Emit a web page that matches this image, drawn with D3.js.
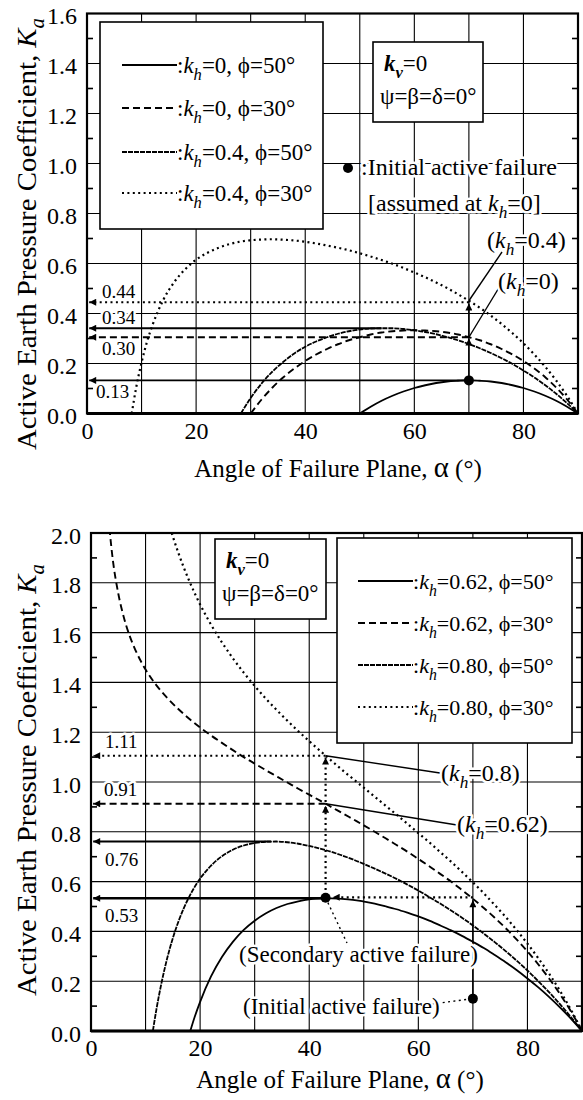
<!DOCTYPE html>
<html>
<head>
<meta charset="utf-8">
<script src="https://cdn.jsdelivr.net/npm/d3@7"></script>
<style>
  body { margin: 0; background: #fff; }
  svg text { font-family: "Liberation Serif", "Times New Roman", serif; fill: #000; }
</style>
</head>
<body>
<div id="chart"></div>
<script>
// values: alpha (deg) and Ka

// upper panel
var alphaKh0Phi50 = [50, 52, 54, 56, 58, 60, 62, 64, 66, 68, 70, 72, 74, 76, 78, 80, 82, 84, 86, 88, 90];
var kaKh0Phi50 = [0, 0.027, 0.051, 0.071, 0.088, 0.102, 0.113, 0.122, 0.128, 0.131, 0.133, 0.131, 0.128, 0.122, 0.113, 0.102, 0.088, 0.071, 0.051, 0.027, 0];

var alphaKh0Phi30 = [30, 32, 34, 36, 38, 40, 42, 44, 46, 48, 50, 52, 54, 56, 58, 60, 62, 64, 66, 68, 70, 72, 74, 76, 78, 80, 82, 84, 86, 88, 90];
var kaKh0Phi30 = [0, 0.056, 0.104, 0.145, 0.180, 0.210, 0.236, 0.258, 0.277, 0.293, 0.305, 0.316, 0.324, 0.329, 0.332, 0.333, 0.332, 0.329, 0.324, 0.316, 0.305, 0.293, 0.277, 0.258, 0.236, 0.210, 0.180, 0.145, 0.104, 0.056, 0];

var alphaKh04Phi50 = [28.2, 30, 32, 34, 36, 38, 40, 42, 44, 46, 48, 50, 52, 54, 56, 58, 60, 62, 64, 66, 68, 70, 72, 74, 76, 78, 80, 82, 84, 86, 88, 90];
var kaKh04Phi50 = [0, 0.062, 0.120, 0.168, 0.207, 0.240, 0.267, 0.288, 0.305, 0.319, 0.329, 0.336, 0.340, 0.341, 0.341, 0.338, 0.333, 0.326, 0.317, 0.306, 0.293, 0.278, 0.261, 0.242, 0.221, 0.198, 0.172, 0.144, 0.113, 0.079, 0.041, 0];

var alphaKh04Phi30 = [8.2, 9, 10, 11, 12, 14, 16, 18, 20, 22, 24, 26, 28, 30, 32, 34, 36, 38, 40, 42, 44, 46, 48, 50, 52, 54, 56, 58, 60, 62, 64, 66, 68, 70, 72, 74, 76, 78, 80, 82, 84, 86, 88, 90];
var kaKh04Phi30 = [0, 0.102, 0.204, 0.287, 0.353, 0.455, 0.526, 0.577, 0.615, 0.642, 0.662, 0.677, 0.687, 0.693, 0.696, 0.697, 0.695, 0.692, 0.687, 0.680, 0.672, 0.663, 0.653, 0.641, 0.628, 0.614, 0.599, 0.582, 0.564, 0.545, 0.524, 0.502, 0.477, 0.451, 0.423, 0.392, 0.358, 0.321, 0.281, 0.236, 0.187, 0.132, 0.070, 0];

// lower panel
var alphaKh062Phi50 = [18.2, 19, 20, 22, 24, 26, 28, 30, 32, 34, 36, 38, 40, 42, 44, 46, 48, 50, 52, 54, 56, 58, 60, 62, 64, 66, 68, 70, 72, 74, 76, 78, 80, 82, 84, 86, 88, 90];
var kaKh062Phi50 = [0, 0.056, 0.117, 0.219, 0.297, 0.358, 0.406, 0.443, 0.472, 0.494, 0.510, 0.521, 0.529, 0.533, 0.533, 0.531, 0.527, 0.520, 0.512, 0.501, 0.489, 0.475, 0.460, 0.443, 0.424, 0.404, 0.382, 0.358, 0.333, 0.305, 0.276, 0.245, 0.211, 0.175, 0.136, 0.094, 0.049, 0];

var alphaKh062Phi30 = [3, 4, 5, 6, 7, 8, 9, 10, 12, 14, 16, 18, 20, 22, 24, 26, 28, 30, 32, 34, 36, 38, 40, 42, 44, 46, 48, 50, 52, 54, 56, 58, 60, 62, 64, 66, 68, 70, 72, 74, 76, 78, 80, 82, 84, 86, 88, 90];
var kaKh062Phi30 = [2.108, 1.892, 1.757, 1.663, 1.592, 1.537, 1.491, 1.452, 1.388, 1.337, 1.293, 1.254, 1.219, 1.187, 1.157, 1.128, 1.100, 1.074, 1.048, 1.023, 0.998, 0.973, 0.949, 0.925, 0.900, 0.876, 0.851, 0.826, 0.800, 0.774, 0.747, 0.720, 0.691, 0.662, 0.631, 0.600, 0.566, 0.531, 0.494, 0.455, 0.413, 0.368, 0.320, 0.267, 0.210, 0.147, 0.078, 0];

var alphaKh080Phi50 = [11.34, 12, 13, 14, 15, 16, 18, 20, 22, 24, 26, 28, 30, 32, 34, 36, 38, 40, 42, 44, 46, 48, 50, 52, 54, 56, 58, 60, 62, 64, 66, 68, 70, 72, 74, 76, 78, 80, 82, 84, 86, 88, 90];
var kaKh080Phi50 = [0, 0.088, 0.201, 0.295, 0.373, 0.438, 0.539, 0.612, 0.664, 0.702, 0.728, 0.745, 0.755, 0.760, 0.761, 0.758, 0.752, 0.743, 0.732, 0.720, 0.705, 0.689, 0.671, 0.652, 0.632, 0.611, 0.588, 0.564, 0.538, 0.512, 0.484, 0.455, 0.424, 0.391, 0.357, 0.321, 0.283, 0.243, 0.200, 0.155, 0.107, 0.055, 0];

var alphaKh080Phi30 = [14.5, 15, 16, 17, 18, 20, 22, 24, 26, 28, 30, 32, 34, 36, 38, 40, 42, 44, 46, 48, 50, 52, 54, 56, 58, 60, 62, 64, 66, 68, 70, 72, 74, 76, 78, 80, 82, 84, 86, 88, 90];
var kaKh080Phi30 = [2.021, 1.986, 1.921, 1.862, 1.808, 1.713, 1.632, 1.561, 1.497, 1.439, 1.386, 1.336, 1.290, 1.246, 1.204, 1.164, 1.125, 1.087, 1.049, 1.013, 0.977, 0.941, 0.905, 0.869, 0.832, 0.795, 0.758, 0.719, 0.680, 0.639, 0.597, 0.553, 0.506, 0.458, 0.406, 0.351, 0.292, 0.229, 0.160, 0.084, 0];

// tick labels
var xTicks = [0, 20, 40, 60, 80];
var yTicksTop = [0, 0.2, 0.4, 0.6, 0.8, 1.0, 1.2, 1.4, 1.6];
var yTicksBottom = [0, 0.2, 0.4, 0.6, 0.8, 1.0, 1.2, 1.4, 1.6, 1.8, 2.0];

var width = 583;
var height = 1100;
var serif = "'Liberation Serif', 'Times New Roman', serif";

var lineStyles = {
  solid: { dash: null, w: 1.8 },
  dashed: { dash: "7,4", w: 1.9 },
  fine: { dash: "5,1", w: 1.8 },
  dotted: { dash: "2,3.4", w: 2.2 }
};

var svg = d3.select("#chart").append("svg")
  .attr("width", width)
  .attr("height", height)
  .style("font-family", serif);

var defs = svg.append("defs");
defs.append("marker")
  .attr("id", "arrow")
  .attr("viewBox", "0 0 10 10")
  .attr("refX", 10)
  .attr("refY", 5)
  .attr("markerUnits", "userSpaceOnUse")
  .attr("markerWidth", 10)
  .attr("markerHeight", 7)
  .attr("orient", "auto")
  .append("path")
  .attr("d", "M0,0L10,5L0,10Z")
  .attr("fill", "#000");

function applyStyle(sel, name, w) {
  var s = lineStyles[name];
  sel.attr("fill", "none").attr("stroke", "#000").attr("stroke-width", w || s.w);
  if (s.dash) sel.attr("stroke-dasharray", s.dash);
  return sel;
}

// text with italic / bold / subscript parts: flags i, b, s
function rich(g, px, py, parts, size) {
  var t = g.append("text")
    .attr("x", px)
    .attr("y", py)
    .style("font-family", serif)
    .style("font-size", size + "px");
  var shift = 0;
  parts.forEach(function (p) {
    var f = p[1] || "";
    var s = t.append("tspan").text(p[0]);
    if (f.indexOf("i") >= 0) s.style("font-style", "italic");
    if (f.indexOf("b") >= 0) s.style("font-weight", "bold");
    if (f.indexOf("L") >= 0) s.style("font-size", size * 1.15 + "px");
    var want = f.indexOf("s") >= 0 ? size * 0.3 : 0;
    if (want !== shift) {
      s.attr("dy", want - shift);
      shift = want;
    }
    if (f.indexOf("s") >= 0) s.style("font-size", size * 0.72 + "px");
  });
  return t;
}

function halo(t) {
  return t.attr("stroke", "#fff").attr("stroke-width", 5).attr("paint-order", "stroke").attr("stroke-linejoin", "round");
}

function drawFrame(g, x, y, yMax, id) {
  var x0 = x(0), x1 = x(90), y0 = y(0), y1 = y(yMax);

  g.append("g")
    .selectAll("line")
    .data(d3.range(10, 90, 10))
    .join("line")
    .attr("x1", (d) => x(d))
    .attr("x2", (d) => x(d))
    .attr("y1", y0)
    .attr("y2", y1)
    .attr("stroke", "#000")
    .attr("stroke-width", 1.1);

  var hs = d3.range(1, Math.round(yMax / 0.2)).map((i) => i * 0.2);
  g.append("g")
    .selectAll("line")
    .data(hs)
    .join("line")
    .attr("x1", x0)
    .attr("x2", x1)
    .attr("y1", (d) => y(d))
    .attr("y2", (d) => y(d))
    .attr("stroke", "#000")
    .attr("stroke-width", 1.1);

  // minor ticks at odd tenths
  var minor = d3.range(0, Math.round(yMax / 0.2)).map((i) => i * 0.2 + 0.1);
  g.append("g")
    .selectAll("line")
    .data(minor)
    .join("line")
    .attr("x1", x0)
    .attr("x2", x0 + 6)
    .attr("y1", (d) => y(d))
    .attr("y2", (d) => y(d))
    .attr("stroke", "#000")
    .attr("stroke-width", 1.6);
  g.append("g")
    .selectAll("line")
    .data(minor)
    .join("line")
    .attr("x1", x1 - 6)
    .attr("x2", x1)
    .attr("y1", (d) => y(d))
    .attr("y2", (d) => y(d))
    .attr("stroke", "#000")
    .attr("stroke-width", 1.6);

  g.append("clipPath")
    .attr("id", id)
    .append("rect")
    .attr("x", x0)
    .attr("y", y1)
    .attr("width", x1 - x0)
    .attr("height", y0 - y1);
}

function drawBorder(g, x, y, yMax, yTicks) {
  var x0 = x(0), x1 = x(90), y0 = y(0), y1 = y(yMax);
  g.append("rect")
    .attr("x", x0)
    .attr("y", y1)
    .attr("width", x1 - x0)
    .attr("height", y0 - y1)
    .attr("fill", "none")
    .attr("stroke", "#000")
    .attr("stroke-width", 2.2);
  g.append("line")
    .attr("x1", x0)
    .attr("x2", x1)
    .attr("y1", y0)
    .attr("y2", y0)
    .attr("stroke", "#000")
    .attr("stroke-width", 3.2);

  var ya = g.append("g")
    .attr("transform", `translate(${x0}, 0)`)
    .call(d3.axisLeft(y).tickValues(yTicks).tickSize(0).tickPadding(10).tickFormat(d3.format(".1f")));
  ya.select(".domain").remove();
  ya.attr("font-family", serif).attr("font-size", 24);
  ya.selectAll("text").style("font-family", serif).style("font-size", "24px").attr("dy", "0.42em");

  var xa = g.append("g")
    .attr("transform", `translate(0, ${y0})`)
    .call(d3.axisBottom(x).tickValues(xTicks).tickSize(0).tickPadding(8));
  xa.select(".domain").remove();
  xa.attr("font-family", serif).attr("font-size", 24);
  xa.selectAll("text").style("font-family", serif).style("font-size", "24px");
}

function drawCurves(g, x, y, series, clipId) {
  var line = d3.line()
    .x((d) => x(d[0]))
    .y((d) => y(d[1]))
    .curve(d3.curveMonotoneX);
  var cg = g.append("g").attr("clip-path", `url(#${clipId})`);
  series.forEach(function (s) {
    applyStyle(cg.append("path").datum(d3.zip(s.alpha, s.ka)).attr("d", line), s.style);
  });
}

function hArrow(g, x, y, a0, a1, k, style, w) {
  applyStyle(
    g.append("line")
      .attr("x1", x(a0))
      .attr("x2", x(a1))
      .attr("y1", y(k))
      .attr("y2", y(k)),
    style, w
  ).attr("marker-end", "url(#arrow)");
}

function vArrow(g, x, y, a, k0, k1, style, w) {
  applyStyle(
    g.append("line")
      .attr("x1", x(a))
      .attr("x2", x(a))
      .attr("y1", y(k0))
      .attr("y2", y(k1)),
    style, w
  ).attr("marker-end", "url(#arrow)");
}

function leader(g, px0, py0, px1, py1, style) {
  applyStyle(
    g.append("line").attr("x1", px0).attr("y1", py0).attr("x2", px1).attr("y2", py1),
    style, 1.4
  );
}

function dot(g, px, py) {
  g.append("circle").attr("cx", px).attr("cy", py).attr("r", 5).attr("fill", "#000");
}

function legendBox(g, bx, by, bw, bh, rows, lx0, lx1, size) {
  g.append("rect")
    .attr("x", bx)
    .attr("y", by)
    .attr("width", bw)
    .attr("height", bh)
    .attr("fill", "#fff")
    .attr("stroke", "#000")
    .attr("stroke-width", 1.6);
  rows.forEach(function (r) {
    applyStyle(g.append("line").attr("x1", lx0).attr("x2", lx1).attr("y1", r.y).attr("y2", r.y), r.style);
    rich(g, lx1, r.y + 8, [[":"], ["k", "i"], ["h", "is"], ["=" + r.kh + ", \u03d5=" + r.phi + "\u00b0"]], size);
  });
}

function kvBox(g, bx, by, bw, bh) {
  g.append("rect")
    .attr("x", bx)
    .attr("y", by)
    .attr("width", bw)
    .attr("height", bh)
    .attr("fill", "#fff")
    .attr("stroke", "#000")
    .attr("stroke-width", 1.6);
  rich(g, bx + 11, by + 29, [["k", "bi"], ["v", "bis"], ["=0"]], 23);
  rich(g, bx + 7, by + 62, [["\u03c8=\u03b2=\u03b4=0\u00b0"]], 23);
}

function titles(g, cx, xBase, cy) {
  rich(g, cx, xBase, [["Angle of Failure Plane, "], ["\u03b1", "L"], [" (\u00b0)"]], 25)
    .attr("text-anchor", "middle");
  rich(g, 0, 0, [["Active Earth Pressure Coefficient, "], ["K", "i"], ["a", "is"]], 28)
    .attr("text-anchor", "middle")
    .attr("textLength", 432)
    .attr("lengthAdjust", "spacingAndGlyphs")
    .attr("transform", `translate(36, ${cy}) rotate(-90)`);
}

// ---------- upper panel ----------
var xT = d3.scaleLinear().domain([0, 90]).range([87, 578]);
var yT = d3.scaleLinear().domain([0, 1.6]).range([413.5, 13.5]);
var gT = svg.append("g");

drawFrame(gT, xT, yT, 1.6, "clipTop");
drawCurves(gT, xT, yT, [
  { alpha: alphaKh0Phi50, ka: kaKh0Phi50, style: "solid" },
  { alpha: alphaKh0Phi30, ka: kaKh0Phi30, style: "dashed" },
  { alpha: alphaKh04Phi50, ka: kaKh04Phi50, style: "fine" },
  { alpha: alphaKh04Phi30, ka: kaKh04Phi30, style: "dotted" }
], "clipTop");

hArrow(gT, xT, yT, 70, 0.4, 0.445, "dotted");
hArrow(gT, xT, yT, 54, 0.4, 0.341, "solid");
hArrow(gT, xT, yT, 70, 0.4, 0.305, "dashed");
hArrow(gT, xT, yT, 70, 0.4, 0.1325, "solid");
vArrow(gT, xT, yT, 70, 0.1325, 0.30, "solid", 1.5);
vArrow(gT, xT, yT, 70, 0.305, 0.44, "solid", 1.5);
dot(gT, xT(70), yT(0.1325));
leader(gT, xT(70), yT(0.451), 502, 252, "solid");
leader(gT, xT(70), yT(0.305), 500, 286, "solid");

halo(rich(gT, 102, 298, [["0.44"]], 19));
halo(rich(gT, 102, 324, [["0.34"]], 19));
halo(rich(gT, 102, 355, [["0.30"]], 19));
halo(rich(gT, 96, 398, [["0.13"]], 19));

legendBox(gT, 100, 22, 223, 207, [
  { y: 65, style: "solid", kh: "0", phi: "50" },
  { y: 108, style: "dashed", kh: "0", phi: "30" },
  { y: 152, style: "fine", kh: "0.4", phi: "50" },
  { y: 193, style: "dotted", kh: "0.4", phi: "30" }
], 122, 177, 23);
kvBox(gT, 373, 42, 110, 80);

dot(gT, 348, 168);
halo(rich(gT, 361, 175, [[":Initial active failure"]], 24));
halo(rich(gT, 368, 211, [["[assumed at "], ["k", "i"], ["h", "is"], ["=0]"]], 24));
halo(rich(gT, 487, 248, [["("], ["k", "i"], ["h", "is"], ["=0.4)"]], 24));
halo(rich(gT, 498, 289, [["("], ["k", "i"], ["h", "is"], ["=0)"]], 24));

drawBorder(gT, xT, yT, 1.6, yTicksTop);
titles(gT, 338, 477, 234);

// ---------- lower panel ----------
var xB = d3.scaleLinear().domain([0, 90]).range([91, 582]);
var yB = d3.scaleLinear().domain([0, 2]).range([1031, 533]);
var gB = svg.append("g");

drawFrame(gB, xB, yB, 2, "clipBottom");
drawCurves(gB, xB, yB, [
  { alpha: alphaKh062Phi50, ka: kaKh062Phi50, style: "solid" },
  { alpha: alphaKh062Phi30, ka: kaKh062Phi30, style: "dashed" },
  { alpha: alphaKh080Phi50, ka: kaKh080Phi50, style: "fine" },
  { alpha: alphaKh080Phi30, ka: kaKh080Phi30, style: "dotted" }
], "clipBottom");

hArrow(gB, xB, yB, 43, 0.4, 1.1055, "dotted");
hArrow(gB, xB, yB, 43, 0.4, 0.9125, "dashed");
hArrow(gB, xB, yB, 33, 0.4, 0.761, "solid");
hArrow(gB, xB, yB, 43, 0.4, 0.533, "solid", 2.6);
hArrow(gB, xB, yB, 70, 44.3, 0.537, "dotted");
vArrow(gB, xB, yB, 70, 0.13, 0.525, "solid", 1.5);
vArrow(gB, xB, yB, 43, 0.545, 0.905, "dotted");
vArrow(gB, xB, yB, 43, 0.92, 1.098, "dotted");
dot(gB, xB(43), yB(0.535));
dot(gB, xB(70), yB(0.13));
leader(gB, xB(43), yB(0.535), 347, 943, "dotted");
leader(gB, 432, 1004, xB(70), yB(0.13), "dotted");
leader(gB, xB(43), yB(1.1055), 440, 773, "solid");
leader(gB, xB(43), yB(0.9125), 457, 825, "solid");

halo(rich(gB, 105, 748, [["1.11"]], 19));
halo(rich(gB, 104, 796, [["0.91"]], 19));
halo(rich(gB, 105, 866, [["0.76"]], 19));
halo(rich(gB, 105, 922, [["0.53"]], 19));

halo(rich(gB, 239, 962, [["(Secondary active failure)"]], 23));
halo(rich(gB, 243, 1014, [["(Initial active failure)"]], 23));
halo(rich(gB, 441, 781, [["("], ["k", "i"], ["h", "is"], ["=0.8)"]], 24));
halo(rich(gB, 457, 832, [["("], ["k", "i"], ["h", "is"], ["=0.62)"]], 24));

legendBox(gB, 337, 538, 235, 205, [
  { y: 581, style: "solid", kh: "0.62", phi: "50" },
  { y: 623, style: "dashed", kh: "0.62", phi: "30" },
  { y: 665, style: "fine", kh: "0.80", phi: "50" },
  { y: 707, style: "dotted", kh: "0.80", phi: "30" }
], 358, 413, 22);
kvBox(gB, 215, 539, 111, 80);

drawBorder(gB, xB, yB, 2, yTicksBottom);
titles(gB, 340, 1088, 780);
</script>
</body>
</html>
